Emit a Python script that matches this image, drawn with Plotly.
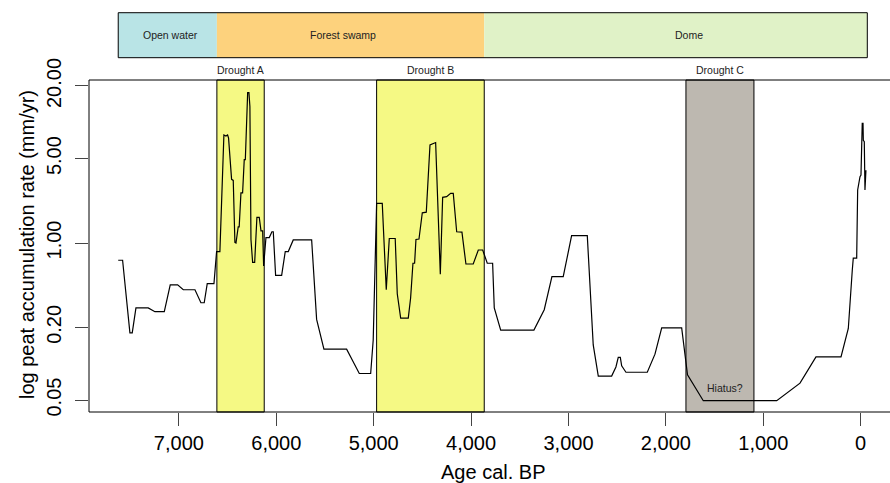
import plotly.graph_objects as go

# ---- data ----
age_bp = [7623, 7578, 7503, 7479, 7441, 7315, 7246, 7150, 7089, 7013, 6955, 6835,
          6774, 6740, 6709, 6640, 6613, 6579, 6538, 6517, 6500, 6490, 6459, 6442,
          6425, 6414, 6391, 6381, 6363, 6346, 6329, 6318, 6294, 6281, 6271, 6260,
          6243, 6222, 6199, 6175, 6157, 6140, 6130, 6106, 6072, 6045, 6031, 6007,
          5945, 5908, 5877, 5826, 5637, 5586, 5511, 5278, 5148, 5031, 5005, 4970,
          4912, 4871, 4840, 4779, 4758, 4723, 4645, 4621, 4597, 4580, 4566, 4535,
          4501, 4460, 4422, 4395, 4364, 4316, 4292, 4251, 4210, 4183, 4148, 4094,
          4053, 3978, 3926, 3881, 3834, 3779, 3762, 3696, 3355, 3249, 3170, 3054,
          2968, 2807, 2746, 2694, 2557, 2513, 2489, 2468, 2454, 2410, 2191, 2112,
          2043, 1838, 1778, 1616, 862, 623, 459, 202, 127, 86, 76, 41, 31, 7, -3,
          -16, -24, -27, -37, -44, -54]
rate = [0.72, 0.72, 0.18, 0.18, 0.29, 0.29, 0.27, 0.27, 0.45, 0.45, 0.41, 0.41,
        0.32, 0.32, 0.46, 0.46, 0.85, 0.85, 7.85, 7.7, 7.85, 7.4, 3.37, 3.3,
        1.01, 1.0, 1.36, 1.36, 2.6, 2.6, 4.9, 4.9, 17.6, 17.6, 13.5, 1.07,
        0.69, 0.69, 1.63, 1.63, 1.26, 1.26, 0.645, 1.11, 1.11, 1.24, 1.24, 0.54,
        0.54, 0.85, 0.85, 1.06, 1.06, 0.233, 0.132, 0.132, 0.083, 0.083, 0.157, 2.13,
        2.13, 0.41, 1.09, 1.09, 0.38, 0.239, 0.239, 0.35, 0.68, 0.68, 1.07, 1.08,
        1.78, 1.8, 6.5, 6.6, 6.8, 0.55, 2.39, 2.42, 2.58, 2.58, 1.24, 1.23,
        0.67, 0.67, 0.875, 0.875, 0.68, 0.68, 0.29, 0.19, 0.19, 0.28, 0.526, 0.526,
        1.15, 1.15, 0.143, 0.079, 0.079, 0.094, 0.113, 0.113, 0.096, 0.085, 0.085, 0.12,
        0.198, 0.198, 0.081, 0.0494, 0.0494, 0.069, 0.114, 0.114, 0.196, 0.6, 0.75, 0.75, 2.75, 3.54, 3.66,
        9.8, 9.8, 7.1, 6.9, 2.75, 4.0]

phase_names = ["Open water", "Forest swamp", "Dome"]
phase_start = [7623, 6610, 3865]
phase_end = [6610, 3865, -68]
phase_label_age = [7089, 5312, 1764]
phase_colors = ["#b9e4e6", "#fdd27d", "#e0f2c7"]

drought_names = ["Drought A", "Drought B", "Drought C"]
drought_start = [6610, 4970, 1794]
drought_end = [6124, 3865, 1096]
drought_colors = ["#f5f984", "#f5f984", "#bdb8b0"]

x_ticks = [7000, 6000, 5000, 4000, 3000, 2000, 1000, 0]
x_tick_text = ["7,000", "6,000", "5,000", "4,000", "3,000", "2,000", "1,000", "0"]
y_ticks = [0.05, 0.2, 1, 5, 20]
y_tick_text = ["0.05", "0.20", "1.00", "5.00", "20.00"]

W, H = 890, 483
ML, MR, MT, MB = 89, 0, 80, 71
FONT = "Liberation Sans, Arial, sans-serif"

fig = go.Figure()
fig.add_trace(go.Scatter(x=age_bp, y=rate, mode="lines",
                         line=dict(color="black", width=1.2), hoverinfo="skip",
                         showlegend=False))

shapes = []
annotations = []
# drought bands
for n, s, e, c in zip(drought_names, drought_start, drought_end, drought_colors):
    shapes.append(dict(type="rect", xref="x", yref="paper", x0=s, x1=e, y0=0, y1=1,
                       fillcolor=c, line=dict(color="black", width=1), layer="below"))
    annotations.append(dict(text=n, xref="x", yref="paper", x=(s + e) / 2, y=1.030,
                            showarrow=False, font=dict(size=10.5, color="#222", family=FONT),
                            xanchor="center", yanchor="middle"))

# phase bar
bar_y0, bar_y1 = 1.0672, 1.2027
for n, s, e, c, la in zip(phase_names, phase_start, phase_end, phase_colors, phase_label_age):
    shapes.append(dict(type="rect", xref="x", yref="paper", x0=s, x1=e, y0=bar_y0, y1=bar_y1,
                       fillcolor=c, line=dict(width=0), layer="above"))
    annotations.append(dict(text=n, xref="x", yref="paper", x=la, y=(bar_y0 + bar_y1) / 2,
                            showarrow=False, font=dict(size=10.5, color="#222", family=FONT),
                            xanchor="center", yanchor="middle"))
shapes.append(dict(type="rect", xref="x", yref="paper", x0=phase_start[0], x1=phase_end[-1],
                   y0=bar_y0, y1=bar_y1, line=dict(color="black", width=1), layer="above"))

# box (left, top, bottom)
for (x0, y0, x1, y1) in [(0, 0, 0, 1), (0, 1, 1, 1), (0, 0, 1, 0)]:
    shapes.append(dict(type="line", xref="paper", yref="paper", x0=x0, y0=y0, x1=x1, y1=y1,
                       line=dict(color="black", width=1), layer="above"))

annotations.append(dict(text="Hiatus?", xref="x", yref="paper", x=1394, y=0.0723,
                        showarrow=False, font=dict(size=10.5, color="#222", family=FONT),
                        xanchor="center", yanchor="middle"))
annotations.append(dict(text="Age cal. BP", xref="paper", yref="paper", x=(493 - ML) / (W - ML - MR),
                        y=(412 - 472) / (H - MT - MB), showarrow=False,
                        font=dict(size=20, color="black", family=FONT),
                        xanchor="center", yanchor="middle"))
annotations.append(dict(text="log peat accumulation rate (mm/yr)", xref="paper", yref="paper",
                        x=(27 - ML) / (W - ML - MR), y=(412 - 245) / (H - MT - MB),
                        textangle=-90, showarrow=False,
                        font=dict(size=20, color="black", family=FONT),
                        xanchor="center", yanchor="middle"))

fig.update_layout(
    width=W, height=H,
    margin=dict(l=ML, r=MR, t=MT, b=MB, autoexpand=False),
    paper_bgcolor="white", plot_bgcolor="white",
    shapes=shapes, annotations=annotations,
    xaxis=dict(range=[7923, -301], tickvals=x_ticks, ticktext=x_tick_text,
               ticks="outside", ticklen=13, tickcolor="#444", tickwidth=1,
               showgrid=False, zeroline=False, showline=False,
               tickfont=dict(size=20, color="black", family=FONT), automargin=False),
    yaxis=dict(type="log", range=[-1.400, 1.3505], tickvals=y_ticks, ticktext=y_tick_text,
               ticks="outside", ticklen=13, tickcolor="#444", tickwidth=1,
               tickangle=-90, showgrid=False, zeroline=False, showline=False,
               ticklabelstandoff=6,
               tickfont=dict(size=20, color="black", family=FONT), automargin=False),
)

fig.write_html("out.html")
